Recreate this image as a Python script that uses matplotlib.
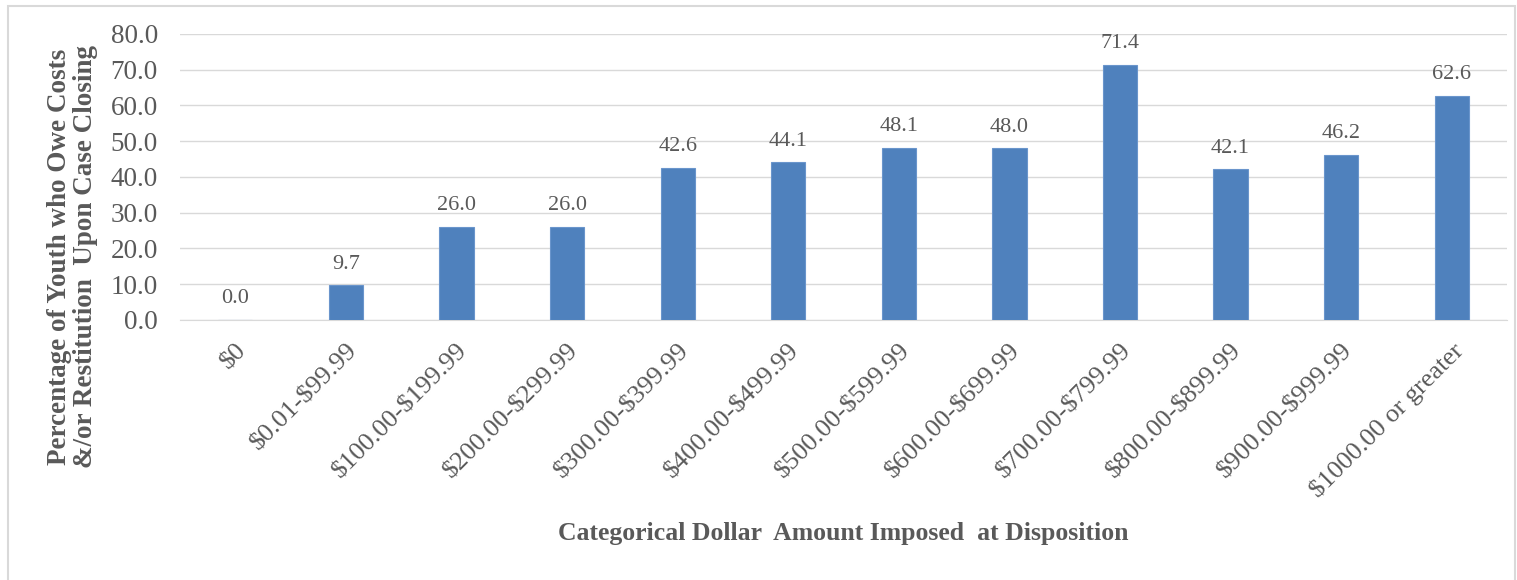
import matplotlib
matplotlib.use("Agg")
import matplotlib.pyplot as plt
from matplotlib.patches import Rectangle

categories = ["$0", "$0.01-$99.99", "$100.00-$199.99", "$200.00-$299.99", "$300.00-$399.99",
              "$400.00-$499.99", "$500.00-$599.99", "$600.00-$699.99", "$700.00-$799.99",
              "$800.00-$899.99", "$900.00-$999.99", "$1000.00 or greater"]
values = [0.0, 9.7, 26.0, 26.0, 42.6, 44.1, 48.1, 48.0, 71.4, 42.1, 46.2, 62.6]
yticks = [0, 10, 20, 30, 40, 50, 60, 70, 80]

plt.rcParams['font.family'] = ['Liberation Serif', 'DejaVu Serif']
plt.rcParams['mathtext.default'] = 'regular'
gray = '#595959'

fig = plt.figure(figsize=(15.17, 5.8), dpi=100)
ax = fig.add_axes([0.1187, 0.4483, 0.8747, 0.4931])

x = list(range(len(categories)))
ax.bar(x, values, width=0.31, color='#4F81BD', edgecolor='#6A95CC', linewidth=0.8, zorder=3)
for xi, v in zip(x, values):
    ax.text(xi, v + 3.3, f"{v:.1f}", ha='center', va='bottom', fontsize=16, color=gray)

ax.set_xlim(-0.5, len(categories) - 0.5)
ax.set_ylim(0, 80)
ax.set_yticks(yticks)
ax.set_yticklabels([f"{t:.1f}" for t in yticks], fontsize=19.5, color=gray)
ax.yaxis.grid(True, color='#D9D9D9', linewidth=1, zorder=0)
ax.set_axisbelow(True)
ax.set_xticks(x)
ax.set_xticklabels([c.replace('$', r'\$') for c in categories], rotation=45, ha='right',
                   rotation_mode='anchor', fontsize=19, color=gray)
ax.tick_params(axis='y', length=0, pad=16)
ax.tick_params(axis='x', length=0, pad=14)
for s in ['top', 'right', 'left']:
    ax.spines[s].set_visible(False)
ax.spines['bottom'].set_color('#D9D9D9')

fig.text(0.048, 0.557, "Percentage of Youth who Owe Costs\n&/or Restitution  Upon Case Closing",
         rotation=90, ha='center', va='center', multialignment='center',
         fontsize=19.5, fontweight='bold', color=gray, linespacing=1.05)
fig.text(0.556, 0.081, "Categorical Dollar  Amount Imposed  at Disposition", ha='center', va='center',
         fontsize=18.5, fontweight='bold', color=gray)

fig.patches.append(Rectangle((0.005, -0.01), 0.994, 1.0, transform=fig.transFigure,
                             fill=False, edgecolor='#D9D9D9', linewidth=1.5))

fig.savefig("out.png", dpi=100)
